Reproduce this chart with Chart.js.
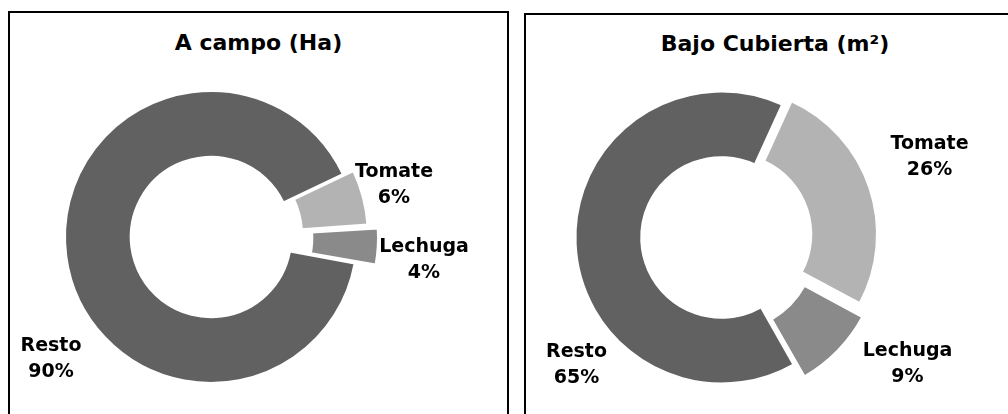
<!DOCTYPE html>
<html>
<head>
<meta charset="utf-8">
<script src="https://cdn.jsdelivr.net/npm/chart.js@4.4.0/dist/chart.umd.min.js"></script>
<style>
    body { margin: 0; background: #fff; width: 1008px; height: 414px; overflow: hidden; position: relative; font-family: "DejaVu Sans", sans-serif; }
    .panel { position: absolute; border: 2px solid #000; height: 430px; }
    .panel .title { position: absolute; left: 0; right: 0; text-align: center; font-weight: bold; font-size: 22px; line-height: 25px; color: #000; }
    .panel canvas { position: absolute; left: 0; top: 0; }
</style>
</head>
<body>
<div class="panel" style="left: 8px; top: 11px; width: 497px;">
    <div class="title" style="top: 17px;">A campo (Ha)</div>
    <canvas id="campo-pie" width="497" height="401"></canvas>
</div>
<div class="panel" style="left: 524px; top: 13px; width: 498px;">
    <div class="title" style="top: 16px;">Bajo Cubierta (m²)</div>
    <canvas id="cubierta-pie" width="482" height="399"></canvas>
</div>
<script>
// values (percent of area)
var categories = ["Tomate", "Lechuga", "Resto"];
var campoValues = [6, 4, 90];
var cubiertaValues = [26, 9, 65];

var sliceColors = ["#b3b3b3", "#8a8a8a", "#616161"];

// draws "Name" / "NN%" next to each slice
var sliceLabels = {
    id: 'sliceLabels',
    afterDatasetsDraw: function(chart, args, opts) {
        var ctx = chart.ctx;
        var meta = chart.getDatasetMeta(0);
        var cx = meta.data[0].x, cy = meta.data[0].y;
        var values = chart.data.datasets[0].data;
        ctx.save();
        ctx.font = 'bold 19px "DejaVu Sans"';
        ctx.fillStyle = '#000';
        ctx.textAlign = 'center';
        ctx.textBaseline = 'middle';
        chart.data.labels.forEach(function(label, i) {
            var p = opts.positions[i];
            ctx.fillText(label, cx + p[0], cy + p[1] - 13);
            ctx.fillText(values[i] + '%', cx + p[0], cy + p[1] + 13);
        });
        ctx.restore();
    }
};

function drawDonut(canvas, values, rotation, offsets, padding, positions) {
    return new Chart(canvas, {
        type: 'doughnut',
        data: {
            labels: categories,
            datasets: [{
                data: values,
                backgroundColor: sliceColors,
                borderColor: '#ffffff',
                borderWidth: 2,
                offset: offsets,
                hoverOffset: 0
            }]
        },
        options: {
            responsive: false,
            animation: false,
            rotation: rotation,
            radius: 146,
            cutout: '55%',
            layout: { padding: padding },
            events: [],
            plugins: {
                legend: { display: false },
                title: { display: false },
                tooltip: { enabled: false },
                sliceLabels: { positions: positions }
            }
        },
        plugins: [sliceLabels]
    });
}

// chart.js moves an exploded arc by offset/4, so these are 4x the pixel shift
drawDonut(document.getElementById('campo-pie'), campoValues, 64.5, [27, 48, 0],
    { top: 47, bottom: 0, left: 0, right: 95 },
    [[183, -52], [213, 23], [-160, 122]]);

drawDonut(document.getElementById('cubierta-pie'), cubiertaValues, 24.5, [40, 44, 0],
    { top: 46, bottom: 0, left: 0, right: 91 },
    [[208, -80], [186, 127], [-145, 128]]);
</script>
</body>
</html>
